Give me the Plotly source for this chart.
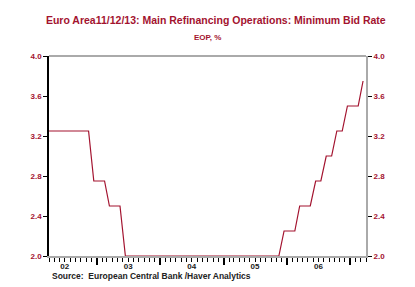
import plotly.graph_objects as go
import pandas as pd

# Monthly end-of-period minimum bid rate (%), Mar 2002 - Mar 2007
months = pd.date_range("2002-03-01", "2007-03-01", freq="MS") + pd.Timedelta(days=14)
rates = (
    [3.25] * 9            # Mar-Nov 2002
    + [2.75, 2.75, 2.75]  # Dec 2002 - Feb 2003
    + [2.50, 2.50, 2.50]  # Mar-May 2003
    + [2.00] * 30         # Jun 2003 - Nov 2005
    + [2.25, 2.25, 2.25]  # Dec 2005 - Feb 2006
    + [2.50, 2.50, 2.50]  # Mar-May 2006
    + [2.75, 2.75]        # Jun-Jul 2006
    + [3.00, 3.00]        # Aug-Sep 2006
    + [3.25, 3.25]        # Oct-Nov 2006
    + [3.50, 3.50, 3.50]  # Dec 2006 - Feb 2007
    + [3.75]              # Mar 2007
)
year_ticks = ["2003-01-01", "2004-01-01", "2005-01-01", "2006-01-01", "2007-01-01"]
label_pos = ["2002-07-01", "2003-07-01", "2004-07-01", "2005-07-01", "2006-07-01"]
label_text = ["02", "03", "04", "05", "06"]
y_ticks = [2.0, 2.4, 2.8, 3.2, 3.6, 4.0]

RED = "#a3132f"
xrange = ["2002-04-01", "2007-04-01"]

fig = go.Figure()
fig.add_trace(go.Scatter(x=list(months), y=rates, mode="lines",
                         line=dict(color=RED, width=1.2), showlegend=False))
# invisible trace for right axis
fig.add_trace(go.Scatter(x=[months[0]], y=[rates[0]], yaxis="y2", mode="lines",
                         line=dict(width=0), showlegend=False, hoverinfo="skip"))

tf = dict(family="Arial, Liberation Sans, sans-serif", size=8, color=RED, weight="bold")

fig.update_layout(
    width=415, height=287,
    margin=dict(l=49, r=49, t=56, b=31),
    paper_bgcolor="white", plot_bgcolor="white",
    title=dict(text="Euro Area11/12/13: Main Refinancing Operations: Minimum Bid Rate",
               x=0.52, xanchor="center", y=1 - 20 / 287, yanchor="middle",
               font=dict(family="Arial, Liberation Sans, sans-serif", size=10.5,
                         color=RED, weight="bold")),
    xaxis=dict(range=xrange, type="date", tickvals=year_ticks, showticklabels=False,
               ticks="outside", ticklen=7, tickwidth=2, tickcolor="black",
               showline=True, linecolor="#aaaaaa", linewidth=2, showgrid=False,
               zeroline=False, mirror=False,
               minor=dict(dtick="M1", tick0="2002-01-01", ticks="outside", ticklen=4,
                          tickwidth=1, tickcolor="black", showgrid=False)),
    xaxis2=dict(range=xrange, type="date", overlaying="x", side="bottom",
                tickvals=label_pos, ticktext=label_text, ticks="", showline=False,
                showgrid=False, zeroline=False, tickfont=dict(
                    family="Arial, Liberation Sans, sans-serif", size=8,
                    color="#222222", weight="bold"), ticklabelstandoff=4),
    yaxis=dict(range=[2.0, 4.0], tickvals=y_ticks, tickformat=".1f",
               ticks="outside", ticklen=4, tickcolor="black", showgrid=False,
               showline=True, linecolor="black", linewidth=1.5, zeroline=False,
               tickfont=tf),
    yaxis2=dict(range=[2.0, 4.0], tickvals=y_ticks, tickformat=".1f", overlaying="y",
                side="right", ticks="outside", ticklen=4, tickcolor="black",
                showgrid=False, showline=True, linecolor="#aaaaaa", linewidth=2,
                zeroline=False, tickfont=tf),
    shapes=[dict(type="line", xref="paper", yref="paper", x0=0, x1=1, y0=1, y1=1,
                 line=dict(color="#aaaaaa", width=2))],
    annotations=[
        dict(text="EOP, %", x=(207.5 - 49) / 317, y=(256 - 38) / 200, xref="paper",
             yref="paper", xanchor="center", yanchor="middle", showarrow=False,
             font=dict(family="Arial, Liberation Sans, sans-serif", size=8,
                       color=RED, weight="bold")),
        dict(text="Source:  European Central Bank /Haver Analytics", x=(50 - 49) / 317,
             y=(256 - 276) / 200, xref="paper", yref="paper", xanchor="left",
             yanchor="middle", showarrow=False,
             font=dict(family="Arial, Liberation Sans, sans-serif", size=8.5,
                       color="#222222", weight="bold")),
    ],
)
fig.data[0].update(xaxis="x")
fig.data[1].update(xaxis="x2")
fig.write_html("out.html")
